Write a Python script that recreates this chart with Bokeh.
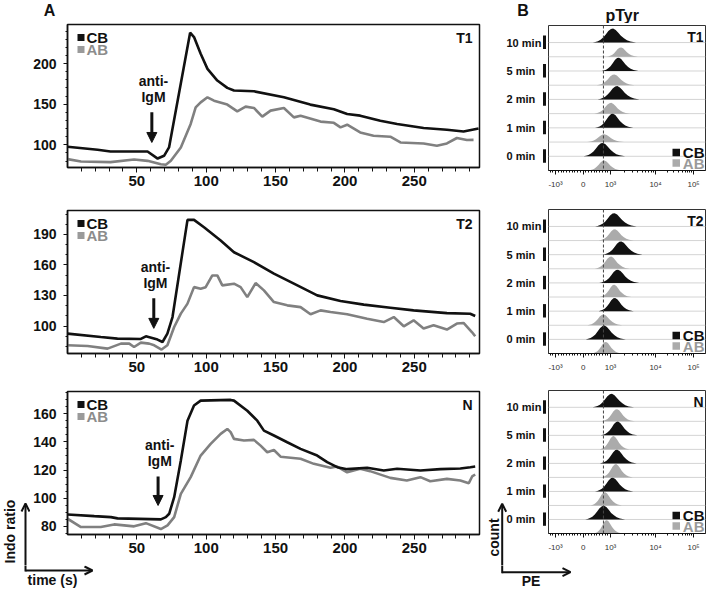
import numpy as np
from math import pi
from bokeh.plotting import figure
from bokeh.layouts import row, column
from bokeh.core.properties import value
from bokeh.models import (Label, Arrow, NormalHead, OpenHead, BoxAnnotation, Span,
                          FixedTicker, Range1d)
from bokeh.embed import file_html
from bokeh.resources import INLINE

FONT = "Liberation Sans"
BLACK = "#111111"
GREY_LINE = "#808080"
GREY_FILL = "#ababab"
GREY_TEXT = "#8c8c8c"

# ---------------- Panel A : Indo ratio vs time (s) ----------------
T1_CB_TIME = [0, 21.7, 31, 57.7, 65, 69.6, 73.2, 88.4, 91.2, 96, 100.9, 108, 115.2, 120,
              134.4, 156, 175, 192, 201.6, 211, 225.5, 237.6, 256.7, 273.5, 285.5, 296.3]
T1_CB_RATIO = [97.5, 93.8, 91.7, 91.7, 83, 86.4, 96.7, 237.9, 232.5, 212, 193.4, 179, 170, 166.7,
               165.8, 158.4, 149.4, 143.8, 137.9, 135.8, 129.6, 125.6, 120.6, 118.5, 116.4, 120.1]
T1_AB_TIME = [0, 9.7, 31, 48, 57.7, 67.3, 70.9, 74.5, 81.7, 88.8, 92.4, 96, 100.9, 105.6, 115.2,
              122.4, 128.4, 134.4, 140.4, 146.4, 156, 163.2, 168, 182.4, 192, 196.8, 201.6, 211,
              220.6, 232.7, 240, 256.7, 266.3, 273.5, 280.7, 287.9, 292.7]
T1_AB_RATIO = [82.3, 79.4, 78.6, 81.9, 80.2, 76.1, 75.3, 80.2, 96.7, 125.6, 146, 152.2, 158.4, 154.3,
               149.4, 141.1, 146.9, 145.3, 134.6, 142, 145.3, 133.7, 135.8, 128.5, 127, 121.4, 124.7,
               115.2, 111.1, 109.9, 102.8, 101.6, 98.8, 101.6, 108.3, 105.8, 106]

T2_CB_TIME = [0, 24, 36, 52.9, 56.5, 64.9, 68.5, 72, 75.7, 80.5, 86.5, 91.2, 98.4, 110.4, 120,
              134.4, 148.8, 163.2, 180, 196.8, 213.6, 232.7, 249.5, 273.5, 290.3, 293.9]
T2_CB_RATIO = [92.5, 89.2, 87.6, 87.3, 89.9, 86.7, 84.3, 92.5, 108.8, 151.4, 204.3, 204.3, 197, 184,
               172.5, 162.7, 151.4, 141.6, 130.1, 124.5, 121, 118, 115.4, 112.7, 112.1, 109.8]
T2_AB_TIME = [0, 14.5, 28.9, 38.5, 44.5, 48, 52.9, 58.9, 62.5, 67.8, 72, 76.9, 81.7, 86.5, 91.2,
              96, 99.6, 104.4, 108, 111.6, 120, 124.8, 129.6, 135.6, 141.6, 148.8, 158.4, 168,
              175.2, 182.4, 189.6, 201.6, 216, 228, 235.2, 242.4, 249.5, 256.7, 263.9, 273.5,
              280.7, 285.5, 291.5, 293.9]
T2_AB_RATIO = [81.1, 80.4, 77.8, 82.7, 82.7, 79.4, 83.7, 82.7, 81.1, 76.9, 81.1, 99, 112.2, 122,
               138.2, 136.7, 138.2, 149.7, 149.7, 139.9, 141.6, 138.2, 128.4, 142.2, 135, 123.5,
               120.3, 118.6, 111.5, 115.4, 113.7, 111.5, 107.2, 103.9, 108.8, 99.7, 105.6, 97.5,
               100.7, 96.5, 102.4, 103, 94.1, 89.9]

N_CB_TIME = [0, 19.3, 31.3, 36.1, 67.3, 70.9, 73.3, 76.9, 81.7, 86.5, 91.2, 96, 117.6, 120,
             129.6, 136.8, 141.6, 148.8, 158.4, 168, 180, 187.2, 194.4, 201.6, 216, 228, 237.6,
             254.4, 268.8, 283.2, 290.4, 293.9]
N_CB_RATIO = [88.3, 87.1, 86.4, 85.5, 84.8, 86.4, 88.8, 100.6, 126.8, 155.2, 166, 169.5, 170, 169.5,
              162.3, 155.2, 148.1, 144.6, 139.8, 135.1, 130.3, 125.6, 122, 120.6, 121.6, 119.6,
              120.9, 119.6, 120.6, 121.1, 122, 122.5]
N_AB_TIME = [0, 9.7, 24, 33.6, 48, 56.5, 67.3, 72.1, 76.9, 81.7, 88.8, 96, 103.2, 110.4, 115.2,
             117.6, 120, 127.2, 134.4, 139.2, 144, 148.8, 153.6, 168, 177.6, 189.6, 194.4, 201.6,
             211, 218.1, 232.7, 244.6, 254.4, 261.5, 273.5, 283.2, 289.3, 291.7, 293.9]
N_AB_RATIO = [85.3, 79.3, 79.3, 81.2, 79.8, 82.1, 77.9, 80.5, 86.4, 103, 114.9, 130.3, 138.6,
              145.8, 149.3, 147, 142.2, 141, 141.5, 137.4, 132.7, 134.3, 129.5, 128, 124.4, 121.6,
              122.5, 118.4, 120.9, 119.2, 114.4, 112.5, 114.9, 112, 113.7, 112.5, 110.6, 115.4, 116.8]

A_NAMES = ["T1", "T2", "N"]
A_X_TICKS = [50, 100, 150, 200, 250]
A_X_MINOR = list(range(10, 300, 10))
T1_Y_TICKS = [100, 150, 200]
T2_Y_TICKS = [100, 130, 160, 190]
N_Y_TICKS = [80, 100, 120, 140, 160]
# anti-IgM addition (time, arrow top ratio, arrow tip ratio)
ANTI_IGM_TIME = [60.8, 62.2, 65.3]
ANTI_IGM_TOP = [139.9, 127.2, 115.4]
ANTI_IGM_TIP = [102.8, 97.7, 94.7]

# ---------------- Panel B : pTyr histograms ----------------
B_TIMES = ["10 min", "5 min", "2 min", "1 min", "0 min"]
B_TICK_POS = [4.5, 22.1, 39.5, 68.2, 92.4]
B_TICK_LABELS = ["-10\u00b3", "0", "10\u00b3", "10\u2074", "10\u2075"]
B_GATE = 35.0
B_YMAX = 10.2
# histogram outline shape (offset in widths, relative count)
PROFILE_X = [-0.45, -0.39, -0.33, -0.27, -0.21, -0.15, -0.09, -0.03, 0.02, 0.08, 0.14, 0.20,
             0.27, 0.34, 0.42, 0.55]
PROFILE_Y = [0, 0.04, 0.10, 0.20, 0.36, 0.58, 0.82, 0.97, 1.0, 0.90, 0.70, 0.48, 0.30, 0.16,
             0.07, 0]

T1_CB_PEAK = [40.6, 44.4, 43.3, 40.6, 34.2]
T1_AB_PEAK = [45.9, 41.6, 39.5, 35.2, 35.2]
T1_CB_WIDTH = [27.6, 23.4, 26.8, 24.4, 26.5]
T1_AB_WIDTH = [20.2, 24.2, 22.9, 23.6, 21.5]
T1_CB_HEIGHT = [0.99, 0.94, 0.94, 1.0, 0.94]
T1_AB_HEIGHT = [0.66, 0.76, 0.76, 0.55, 0.71]

T2_CB_PEAK = [41.6, 45.9, 43.8, 42.0, 35.2]
T2_AB_PEAK = [42.0, 39.5, 41.6, 34.8, 36.3]
T2_CB_WIDTH = [26.5, 25.5, 25.5, 22.3, 25.5]
T2_AB_WIDTH = [22.3, 22.3, 20.2, 22.3, 19.1]
T2_CB_HEIGHT = [0.94, 0.94, 0.94, 0.94, 0.98]
T2_AB_HEIGHT = [0.80, 0.87, 0.87, 0.77, 0.82]

N_CB_PEAK = [39.9, 43.8, 43.3, 40.6, 34.8]
N_AB_PEAK = [43.3, 41.2, 42.7, 35.7, 36.9]
N_CB_WIDTH = [26.5, 23.4, 23.4, 24.4, 25.5]
N_AB_WIDTH = [21.2, 19.1, 20.2, 20.2, 18.0]
N_CB_HEIGHT = [0.96, 0.98, 0.98, 0.98, 0.98]
N_AB_HEIGHT = [0.87, 0.95, 0.95, 0.95, 0.95]

# ---------------- layout constants (pixels) ----------------
TOP_H, BOT_H = 23, 24
ROW_H = [169, 186, 187]
A_W, A_LEFT, A_RIGHT = 486, 67, 7
L3_W = 30
A_TOP = [1, 18, 13]
A_BOTTOM = [25, 25, 31]
LAB_W = 61
B_W, B_LEFT, B_RIGHT = 164, 1, 6
B_TOP = [2, 17, 12]
B_BOTTOM = [22, 25, 32]


def no_align(p):
    if "frame_align" in p.properties():
        p.frame_align = False
    return p


def blank(w, h, xr, yr):
    p = figure(width=w, height=h, x_range=Range1d(*xr), y_range=Range1d(*yr),
               output_backend="svg", toolbar_location=None, title=None,
               x_axis_type=None, y_axis_type=None, min_border=0,
               min_border_left=0, min_border_right=0, min_border_top=0, min_border_bottom=0)
    p.outline_line_color = None
    return no_align(p)


def add_text(p, x, y, texts, size, align="center", angle=0, color=BLACK):
    p.text(x=x, y=y, text=texts, text_font=value(FONT), text_font_style="bold",
           text_font_size=size, text_color=color, text_align=align,
           text_baseline="middle", angle=angle)


def lab(text, x, y, size, color=BLACK, align="left", baseline="middle", units="screen"):
    return Label(x=x, y=y, x_units=units, y_units=units, text=text,
                 text_font=FONT, text_font_size=size, text_font_style="bold",
                 text_color=color, text_align=align, text_baseline=baseline)


def box(l, r, b, t, color):
    return BoxAnnotation(left=l, right=r, bottom=b, top=t, left_units="screen",
                         right_units="screen", bottom_units="screen", top_units="screen",
                         fill_color=color, fill_alpha=1, line_alpha=0, level="overlay")


def open_arrow(x0, y0, x1, y1):
    return Arrow(end=OpenHead(size=8, line_width=2, line_color=BLACK),
                 x_start=x0, y_start=y0, x_end=x1, y_end=y1,
                 line_width=2, line_color=BLACK)


def style_axis(ax, size, color=BLACK, style="bold", width=1.5):
    ax.major_label_text_font = FONT
    ax.major_label_text_font_style = style
    ax.major_label_text_font_size = size
    ax.major_label_text_color = color
    ax.axis_line_color = BLACK
    ax.axis_line_width = width
    ax.major_tick_line_color = BLACK
    ax.minor_tick_line_color = BLACK
    ax.major_tick_in = 0
    ax.minor_tick_in = 0


def panel_a(i, cb_t, cb_y, ab_t, ab_y, yr, yticks, yminor, width, left):
    h = ROW_H[i]
    fh = h - A_TOP[i] - A_BOTTOM[i]
    fw = width - left - A_RIGHT
    p = figure(width=width, height=h, x_range=Range1d(0, 297), y_range=Range1d(*yr),
               output_backend="svg", toolbar_location=None, title=None,
               min_border_left=left, min_border_right=A_RIGHT,
               min_border_top=A_TOP[i], min_border_bottom=A_BOTTOM[i])
    no_align(p)
    p.xgrid.visible = False
    p.ygrid.visible = False
    p.outline_line_color = BLACK
    p.outline_line_width = 1.5
    p.xaxis.ticker = FixedTicker(ticks=A_X_TICKS, minor_ticks=A_X_MINOR)
    p.yaxis.ticker = FixedTicker(ticks=yticks, minor_ticks=yminor)
    style_axis(p.xaxis[0], "15px")
    style_axis(p.yaxis[0], "14px")
    p.xaxis.major_tick_out = 5
    p.xaxis.minor_tick_out = 4
    p.xaxis.major_label_standoff = 3
    p.yaxis.major_tick_out = 4
    p.yaxis.minor_tick_out = 2
    p.yaxis.major_label_standoff = 7

    p.line(ab_t, ab_y, line_color=GREY_LINE, line_width=2.6)
    p.line(cb_t, cb_y, line_color=BLACK, line_width=2.6)

    y_cb, y_ab = fh - 13, fh - 25
    p.add_layout(box(10, 17, y_cb - 3.5, y_cb + 3.5, BLACK))
    p.add_layout(box(10, 17, y_ab - 3.5, y_ab + 3.5, "#9a9a9a"))
    p.add_layout(lab("CB", 19, y_cb, "15px"))
    p.add_layout(lab("AB", 19, y_ab, "15px", color=GREY_TEXT))
    p.add_layout(lab(A_NAMES[i], fw - 7, fh - 5, "14px", align="right", baseline="top"))
    tx = ANTI_IGM_TIME[i]
    span = yr[1] - yr[0]
    top = ANTI_IGM_TOP[i]
    p.add_layout(lab("IgM", tx + 1.2, top + span * 0.105, "14px", align="center", units="data"))
    p.add_layout(lab("anti-", tx + 1.2, top + span * 0.22, "14px", align="center", units="data"))
    p.add_layout(Arrow(end=NormalHead(size=10, fill_color=BLACK, line_color=BLACK),
                       x_start=tx, y_start=top, x_end=tx, y_end=ANTI_IGM_TIP[i],
                       line_width=3, line_color=BLACK))
    return p


def row_bases():
    n = len(B_TIMES)
    cb = [2 * (n - 1 - k) + 1 for k in range(n)]
    ab = [b - 1 for b in cb]
    return cb, ab


def panel_b(i, cb_pk, ab_pk, cb_w, ab_w, cb_h, ab_h):
    h = ROW_H[i]
    fh = h - B_TOP[i] - B_BOTTOM[i]
    fw = B_W - B_LEFT - B_RIGHT
    p = figure(width=B_W, height=h, x_range=Range1d(0, 100), y_range=Range1d(0, B_YMAX),
               output_backend="svg", toolbar_location=None, title=None,
               min_border_left=B_LEFT, min_border_right=B_RIGHT,
               min_border_top=B_TOP[i], min_border_bottom=B_BOTTOM[i])
    no_align(p)
    p.xgrid.visible = False
    p.ygrid.visible = False
    p.yaxis.visible = False
    p.outline_line_color = "#333333"
    p.outline_line_width = 1
    p0, p1, p2, p3, p4 = B_TICK_POS
    minors = ([p0 - (p1 - p0) * f / 10 for f in range(1, 3)]
              + [p0 + (p1 - p0) * f / 10 for f in range(1, 10)]
              + [p1 + (p2 - p1) * f / 10 for f in range(1, 10)]
              + [p2 + (p3 - p2) * np.log10(k) for k in range(2, 10)]
              + [p3 + (p4 - p3) * np.log10(k) for k in range(2, 10)])
    p.xaxis.ticker = FixedTicker(ticks=B_TICK_POS, minor_ticks=minors)
    p.xaxis.major_label_overrides = dict(zip(B_TICK_POS, B_TICK_LABELS))
    style_axis(p.xaxis[0], "8px", color="#333333", style="normal", width=1)
    p.xaxis.major_tick_out = 4
    p.xaxis.minor_tick_out = 2
    p.xaxis.major_label_standoff = 5

    n = len(B_TIMES)
    for k in range(1, 2 * n):
        p.add_layout(Span(location=k, dimension="width", line_color="#d4d4d4",
                          line_width=1, level="underlay"))
    px = np.array(PROFILE_X)
    py = np.array(PROFILE_Y)
    bcb, bab = row_bases()
    xs, ys, cols = [], [], []
    for k in range(n):
        xs.append(list(cb_pk[k] + px * cb_w[k]))
        ys.append(list(bcb[k] + py * cb_h[k]))
        cols.append(BLACK)
        xs.append(list(ab_pk[k] + px * ab_w[k]))
        ys.append(list(bab[k] + py * ab_h[k]))
        cols.append(GREY_FILL)
    p.patches(xs, ys, fill_color=cols, line_color=None)
    p.add_layout(Span(location=B_GATE, dimension="height", line_color="#444444",
                      line_width=1, line_dash="3 2"))
    y_cb, y_ab = 18, 7.5
    p.add_layout(box(fw - 33, fw - 25.5, y_cb - 3.8, y_cb + 3.8, BLACK))
    p.add_layout(box(fw - 33, fw - 25.5, y_ab - 3.8, y_ab + 3.8, GREY_FILL))
    p.add_layout(lab("CB", fw - 1, y_cb, "15px", align="right"))
    p.add_layout(lab("AB", fw - 1, y_ab, "15px", align="right", color="#9a9a9a"))
    p.add_layout(lab(A_NAMES[i], fw - 2, fh - 3, "14px", align="right", baseline="top"))
    return p


def panel_lab(i):
    """Row names (10 min ... 0 min) with their bars, on the B row scale."""
    h = ROW_H[i]
    fh = h - B_TOP[i] - B_BOTTOM[i]
    u = B_YMAX / fh
    p = blank(LAB_W, h, (0, LAB_W), (-B_BOTTOM[i] * u, B_YMAX + B_TOP[i] * u))
    bcb, _ = row_bases()
    p.text(x=[20] * len(bcb), y=bcb, text=B_TIMES, text_font=value(FONT),
           text_font_style="bold", text_font_size="11px", text_color=BLACK,
           text_align="left", text_baseline="middle")
    p.quad(left=56.5, right=59.5, bottom=[b - 0.45 for b in bcb], top=[b + 0.5 for b in bcb],
           fill_color=BLACK, line_color=None)
    if i == 2:
        add_text(p, [7], [-4 * u], ["count"], "14px", angle=pi / 2)
        p.add_layout(open_arrow(15.7, -B_BOTTOM[i] * u, 15.7, 29.7 * u))
    return p


# ---------- figures ----------
FULL_W = A_W + LAB_W + B_W
top = blank(FULL_W, TOP_H, (0, FULL_W), (0, TOP_H))
add_text(top, [49, 522.5], [13, 13], ["A", "B"], "16px")
add_text(top, [621.7], [8], ["pTyr"], "16px")

a1 = panel_a(0, T1_CB_TIME, T1_CB_RATIO, T1_AB_TIME, T1_AB_RATIO, (72, 248), T1_Y_TICKS,
             list(range(80, 250, 10)), A_W, A_LEFT)
a2 = panel_a(1, T2_CB_TIME, T2_CB_RATIO, T2_AB_TIME, T2_AB_RATIO, (73, 213.5), T2_Y_TICKS,
             list(range(80, 214, 10)), A_W, A_LEFT)
a3 = panel_a(2, N_CB_TIME, N_CB_RATIO, N_AB_TIME, N_AB_RATIO, (74, 176), N_Y_TICKS,
             list(range(75, 177, 5)), A_W - L3_W, A_LEFT - L3_W)
b1 = panel_b(0, T1_CB_PEAK, T1_AB_PEAK, T1_CB_WIDTH, T1_AB_WIDTH, T1_CB_HEIGHT, T1_AB_HEIGHT)
b2 = panel_b(1, T2_CB_PEAK, T2_AB_PEAK, T2_CB_WIDTH, T2_AB_WIDTH, T2_CB_HEIGHT, T2_AB_HEIGHT)
b3 = panel_b(2, N_CB_PEAK, N_AB_PEAK, N_CB_WIDTH, N_AB_WIDTH, N_CB_HEIGHT, N_AB_HEIGHT)
l1, l2, l3 = panel_lab(0), panel_lab(1), panel_lab(2)

# left strip of the last row: "Indo ratio" axis arrow (y = pixels above the row bottom)
left3 = blank(L3_W, ROW_H[2], (0, L3_W), (0, ROW_H[2]))
add_text(left3, [9], [34], ["Indo ratio"], "14px", angle=pi / 2)
left3.add_layout(open_arrow(25, 0, 25, 62))

# bottom strip: horizontal axis arrows and their names
bottom = blank(FULL_W, BOT_H, (0, FULL_W), (0, BOT_H))
bottom.segment(x0=[25, 501.7], y0=[BOT_H, BOT_H], x1=[25, 501.7], y1=[19, 17.3],
               line_color=BLACK, line_width=2, line_cap="square")
bottom.add_layout(open_arrow(25, 19, 92, 19))
bottom.add_layout(open_arrow(501.7, 17.3, 570, 17.3))
add_text(bottom, [52, 530.5], [10, 9], ["time (s)", "PE"], "14px")

layout = column(top,
                row(a1, l1, b1),
                row(a2, l2, b2),
                row(left3, a3, l3, b3),
                bottom)
open("out.html", "w").write(file_html(layout, INLINE))
